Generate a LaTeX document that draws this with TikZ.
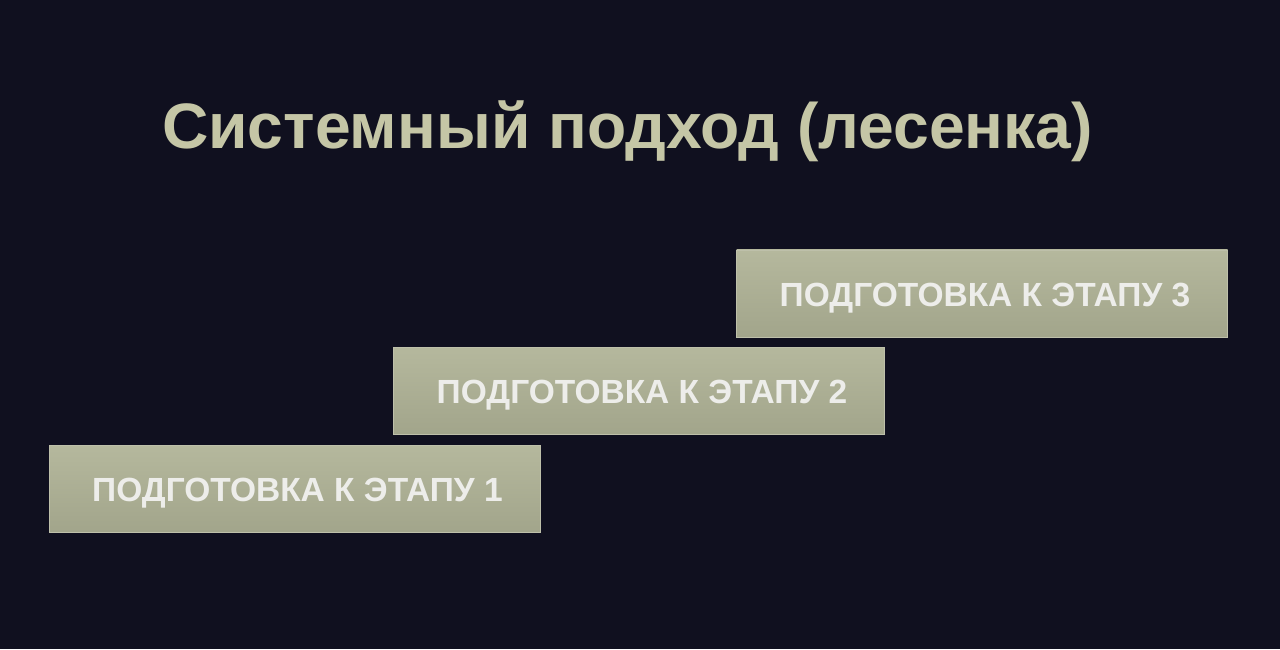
\documentclass[tikz,border=0pt]{standalone}
\usepackage{fontspec}
\setmainfont{Liberation Sans}
\definecolor{bg}{HTML}{10101F}
\definecolor{titlec}{HTML}{C5C6A6}
\definecolor{boxtop}{HTML}{B5B89D}
\definecolor{boxbot}{HTML}{A2A58B}
\definecolor{boxedge}{HTML}{BEC0AA}
\definecolor{boxtext}{HTML}{EDEDEA}
\tikzset{
  stepbox/.style={rectangle, minimum width=491pt, minimum height=87pt, inner sep=0pt,
    top color=boxtop, bottom color=boxbot, draw=boxedge, line width=0.8pt},
  steptext/.style={text=boxtext, font=\fontsize{33.5}{38}\selectfont\bfseries, inner sep=0pt, anchor=base},
  titletext/.style={text=titlec, font=\fontsize{64.2}{74}\selectfont\bfseries, inner sep=0pt}
}
\begin{document}
\begin{tikzpicture}[x=1pt,y=1pt]
\fill[bg] (0,0) rectangle (1280,649);
\useasboundingbox (0,0) rectangle (1280,649);
\node[titletext, anchor=base] (title) at (627.5,500) {Системный подход (лесенка)};
\node[stepbox] (s1) at (294.5,160.5) {};
\node[stepbox] (s2) at (639,258.5) {};
\node[stepbox] (s3) at (982,355.5) {};
\node[steptext] (t1) at ([xshift=3pt,yshift=-13pt]s1.center) {ПОДГОТОВКА К ЭТАПУ 1};
\node[steptext] (t2) at ([xshift=3pt,yshift=-13pt]s2.center) {ПОДГОТОВКА К ЭТАПУ 2};
\node[steptext] (t3) at ([xshift=3pt,yshift=-13pt]s3.center) {ПОДГОТОВКА К ЭТАПУ 3};
\end{tikzpicture}
\end{document}
